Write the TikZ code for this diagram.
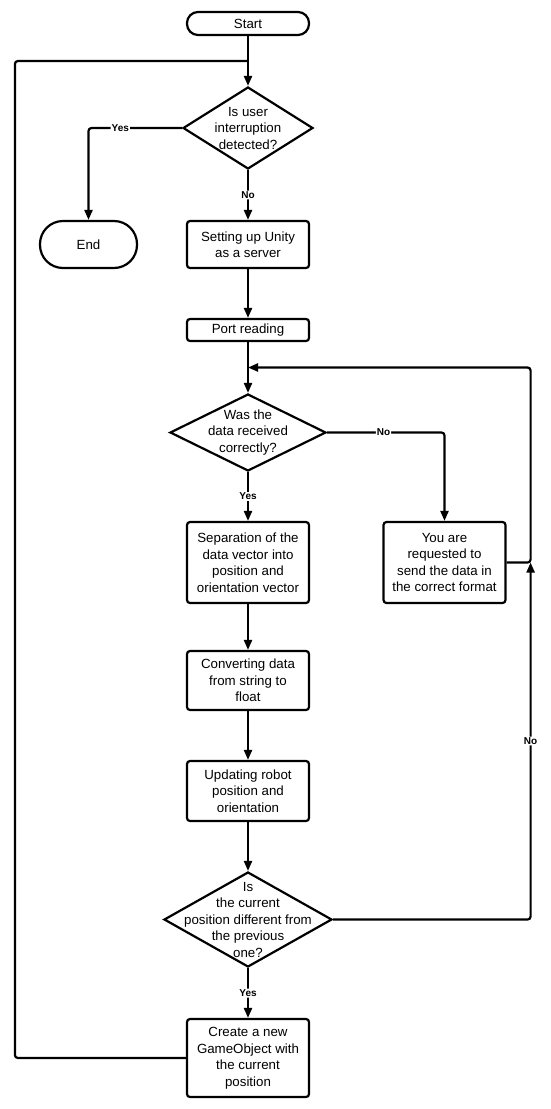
\documentclass[tikz,border=0pt]{standalone}
\usepackage{fontspec}
\setmainfont{Liberation Sans}
\usetikzlibrary{arrows.meta,positioning,shapes.geometric,calc}
\tikzset{
    termbox/.style={draw, rounded corners=11pt, align=center,
        minimum width=122pt, minimum height=23pt, inner sep=2pt},
    procbox/.style={draw, rounded corners=3pt, align=center,
        minimum width=122pt, inner sep=2pt},
    decision/.style={draw, diamond, inner sep=0pt},
    dectext/.style={align=center, inner sep=0pt},
    flowarrow/.style={-{Triangle[length=10pt,width=8pt]}, rounded corners=3pt},
    flowline/.style={rounded corners=3pt},
    choice/.style={fill=white, inner sep=1pt,
        font=\fontsize{10}{12}\selectfont\bfseries}
}

\begin{document}
\begin{tikzpicture}[x=1pt, y=1pt, line width=2.2pt,
    font=\fontsize{13.3}{16.5}\selectfont]
\useasboundingbox (0,0) rectangle (550,-1109);
\node[termbox] (start) at (248,-23.5) {Start};
\node[decision, minimum width=130pt, minimum height=82pt,
    label={[dectext]center:{Is user\\interruption\\detected?}}] (q1) at (248,-128) {};
\node[procbox, minimum height=47pt] (setup) at (248,-244.5) {Setting up Unity\\as a server};
\node[termbox, minimum width=97pt, minimum height=47pt, rounded corners=23pt] (end) at (88.5,-244.5) {End};
\node[procbox, minimum height=22pt] (port) at (248,-330) {Port reading};
\node[decision, minimum width=156pt, minimum height=77pt,
    label={[dectext]center:{Was the\\data received\\correctly?}}] (q2) at (248,-432.5) {};
\node[procbox, minimum height=81pt] (split) at (248,-562.5) {Separation of the\\data vector into\\position and\\orientation vector};
\node[procbox, minimum height=81pt] (resend) at (444.5,-562.5) {You are\\requested to\\send the data in\\the correct format};
\node[procbox, minimum height=59pt] (convert) at (248,-680.5) {Converting data\\from string to\\float};
\node[procbox, minimum height=60pt] (update) at (248,-791) {Updating robot\\position and\\orientation};
\node[decision, minimum width=168pt, minimum height=95pt,
    label={[dectext]center:{Is\\the current\\position different from\\the previous\\one?}}] (q3) at (248,-919.5) {};
\node[procbox, minimum height=78pt] (create) at (248,-1058) {Create a new\\GameObject with\\the current\\position};
\coordinate (j1) at ($(start.south)!0.5!(q1.north)$);
\coordinate (j2) at ($(port.south)!0.5!(q2.north)$);
\draw[flowarrow] (start) -- (q1);
\draw[flowarrow] (q1.west) -| node[choice, pos=0.33]{Yes} (end.north);
\draw[flowarrow] (q1) -- node[choice]{No} (setup);
\draw[flowarrow] (setup) -- (port);
\draw[flowarrow] (port) -- (q2);
\draw[flowarrow] (q2.east) -| node[choice, pos=0.24]{No} (resend.north);
\draw[flowarrow] (q2) -- node[choice]{Yes} (split);
\draw[flowarrow] (resend.east) -- ++(24pt,0) coordinate (jr) |- (j2);
\draw[flowarrow] (split) -- (convert);
\draw[flowarrow] (convert) -- (update);
\draw[flowarrow] (update) -- (q3);
\draw[flowarrow] (q3.east) -| node[choice, pos=0.75]{No} (jr);
\draw[flowarrow] (q3) -- node[choice]{Yes} (create);
\draw[flowline] (create.west) -- ++(-171pt,0) |- (j1);
\end{tikzpicture}
\end{document}
